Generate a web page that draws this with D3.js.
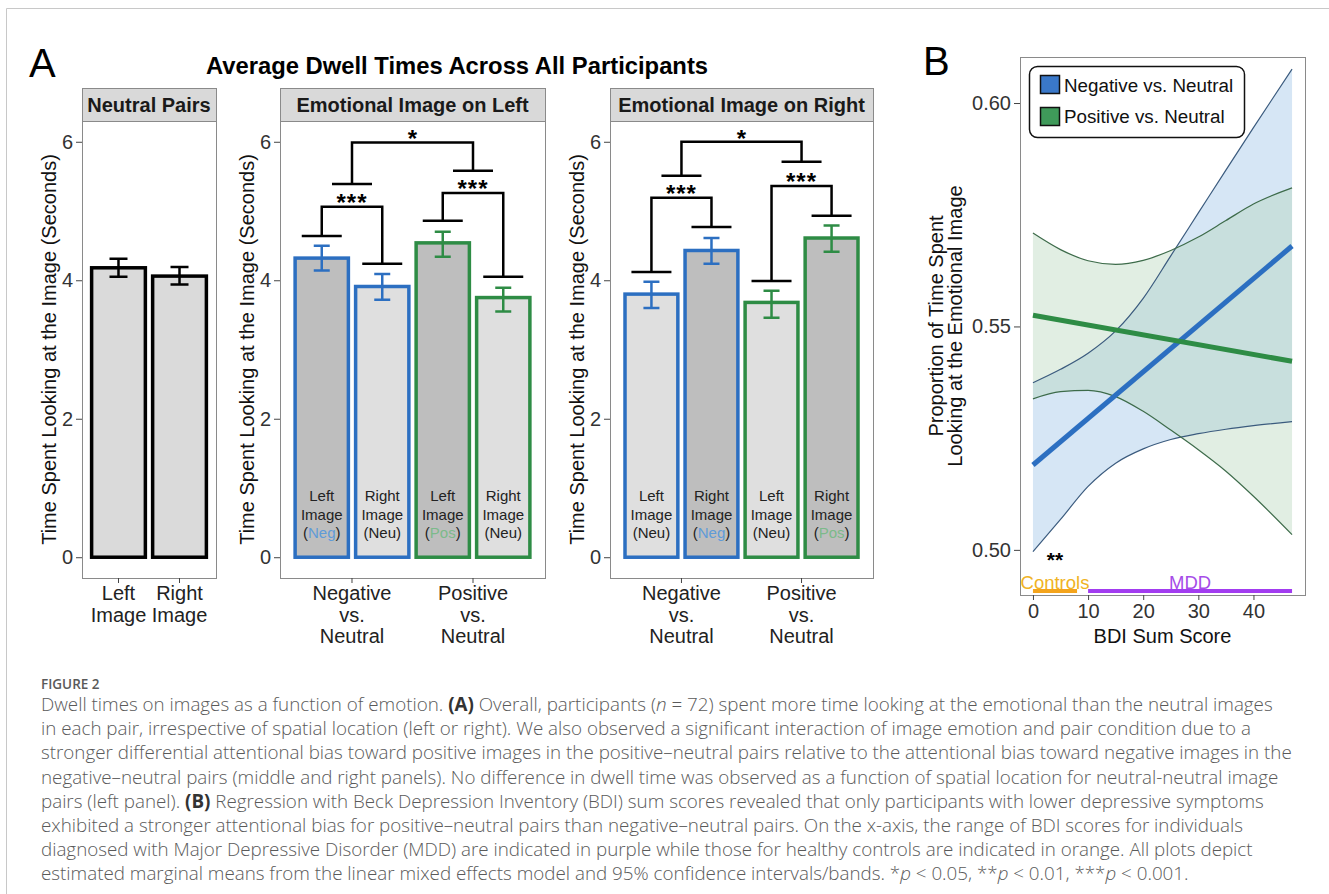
<!DOCTYPE html>
<html>
<head>
<meta charset="utf-8">
<script src="https://cdn.jsdelivr.net/npm/d3@7"></script>
<style>
  body { margin: 0; background: #fff; }
  svg { display: block; }
</style>
</head>
<body>
<svg id="fig" width="1329" height="894"></svg>
<script>
// ---- panel A data (seconds) ----
var neutralCats = ["Left Image", "Right Image"];
var neutralMeans = [4.18, 4.06];
var neutralLo = [4.05, 3.94];
var neutralHi = [4.31, 4.19];

var pairCats = ["Negative vs. Neutral", "Positive vs. Neutral"];
var sideCats = ["Left", "Right"];

// order: neg/left, neg/right, pos/left, pos/right
var leftMeans = [4.32, 3.91, 4.54, 3.75];
var leftLo = [4.14, 3.72, 4.34, 3.55];
var leftHi = [4.50, 4.09, 4.70, 3.89];
var leftTags = ["Neg", "Neu", "Pos", "Neu"];

var rightMeans = [3.80, 4.43, 3.68, 4.61];
var rightLo = [3.60, 4.24, 3.46, 4.41];
var rightHi = [3.98, 4.61, 3.85, 4.79];
var rightTags = ["Neu", "Neg", "Neu", "Pos"];

// significance brackets, heights in seconds
var leftCaps = [4.64, 4.24, 4.86, 4.05];
var leftJoins = [5.06, 5.26];
var leftGroupCaps = [5.39, 5.58];
var leftTop = 5.99;
var rightCaps = [4.12, 4.77, 3.99, 4.93];
var rightJoins = [5.19, 5.36];
var rightGroupCaps = [5.51, 5.71];
var rightTop = 6.0;
var pairStars = ["***", "***"];
var topStars = "*";

var yTicks = [0, 2, 4, 6];

// ---- panel B data ----
var bdiBand = [0, 5, 10, 15, 20, 25, 30, 35, 40, 47];
var negLower = [0.4996, 0.5068, 0.5142, 0.5194, 0.5226, 0.5247, 0.5260, 0.5270, 0.5278, 0.5287];
var negUpper = [0.5374, 0.5404, 0.5440, 0.5490, 0.5563, 0.5658, 0.5754, 0.5850, 0.5945, 0.6076];
var posLower = [0.5338, 0.5354, 0.5357, 0.5343, 0.5310, 0.5268, 0.5224, 0.5176, 0.5120, 0.5034];
var posUpper = [0.5709, 0.5672, 0.5647, 0.5639, 0.5648, 0.5670, 0.5700, 0.5737, 0.5774, 0.5810];
var bdiFit = [0, 47];
var negFit = [0.519, 0.568];
var posFit = [0.5525, 0.5422];
var bdiTicks = [0, 10, 20, 30, 40];
var propTicks = [0.50, 0.55, 0.60];
var controlsRange = [0, 8];
var mddRange = [10, 47];
var legendLabels = ["Negative vs. Neutral", "Positive vs. Neutral"];

var F = "'Liberation Sans', Arial, Helvetica, sans-serif";
var BLUE = "#2c6fc1", GREEN = "#2e8c45";
var DARKFILL = "#bebebe", LIGHTFILL = "#dfdfdf";

var svg = d3.select("#fig").attr("font-family", F);

// outer frame lines
svg.append("path").attr("d", "M6.5,894V8.5H1329").attr("fill", "none").attr("stroke", "#c8c8c8");

var stripTop = 88, panelTop = 121, panelBottom = 578;
var yA = d3.scaleLinear().domain([-0.3, 6.3]).range([panelBottom, panelTop]);

svg.append("text").attr("x", 29).attr("y", 77).attr("font-size", 40).text("A");
svg.append("text").attr("x", 457).attr("y", 74).attr("text-anchor", "middle")
  .attr("font-size", 23.8).attr("font-weight", "bold").text("Average Dwell Times Across All Participants");

function frame(x0, x1, title) {
  svg.append("rect").attr("x", x0 + 0.5).attr("y", stripTop + 0.5)
    .attr("width", x1 - x0).attr("height", panelTop - stripTop)
    .attr("fill", "#d9d9d9").attr("stroke", "#8a8a8a");
  svg.append("text").attr("x", (x0 + x1) / 2).attr("y", stripTop + 23.5)
    .attr("text-anchor", "middle").attr("font-size", 20).attr("font-weight", "bold")
    .attr("fill", "#1a1a1a").text(title);
  svg.append("rect").attr("x", x0 + 0.5).attr("y", panelTop + 0.5)
    .attr("width", x1 - x0).attr("height", panelBottom - panelTop)
    .attr("fill", "#fff").attr("stroke", "#8a8a8a");

  var ax = svg.append("g").attr("transform", "translate(" + x0 + ",0)")
    .call(d3.axisLeft(yA).tickValues(yTicks).tickFormat(d3.format("d")).tickSize(6).tickPadding(3));
  ax.select(".domain").remove();
  ax.attr("font-family", F).attr("font-size", 20);
  ax.selectAll("line").attr("stroke", "#444");
  ax.selectAll("text").attr("fill", "#333");

  svg.append("text")
    .attr("transform", "translate(" + (x0 - 26) + "," + ((panelTop + panelBottom) / 2) + ") rotate(-90)")
    .attr("text-anchor", "middle").attr("font-size", 20).attr("fill", "#111")
    .text("Time Spent Looking at the Image (Seconds)");
}

function xLabels(scale, cats, lineGap) {
  var ax = svg.append("g").attr("transform", "translate(0," + panelBottom + ")")
    .call(d3.axisBottom(scale).tickSize(5).tickFormat(""));
  ax.select(".domain").remove();
  ax.selectAll("line").attr("stroke", "#444");
  cats.forEach(function(c) {
    var t = svg.append("text").attr("text-anchor", "middle").attr("font-size", 20).attr("fill", "#222");
    c.split(" ").forEach(function(w, k) {
      t.append("tspan").attr("x", scale(c) + scale.bandwidth() / 2)
        .attr("y", 600 + k * lineGap).text(w);
    });
  });
}

// ---- neutral pairs panel ----
(function() {
  var x0 = 82, x1 = 216;
  frame(x0, x1, "Neutral Pairs");
  var x = d3.scaleBand().domain(neutralCats).range([x0, x1]).paddingInner(0.07).paddingOuter(0.133);
  var rows = neutralCats.map(function(c, i) {
    return { cat: c, mean: neutralMeans[i], lo: neutralLo[i], hi: neutralHi[i] };
  });
  svg.append("g").selectAll("rect").data(rows).join("rect")
    .attr("x", function(d) { return x(d.cat) + 1.5; })
    .attr("width", x.bandwidth() - 3)
    .attr("y", function(d) { return yA(d.mean); })
    .attr("height", function(d) { return yA(0) - yA(d.mean); })
    .attr("fill", "#dadada").attr("stroke", "#000").attr("stroke-width", 3.5);
  var eb = svg.append("g").attr("stroke", "#000").attr("stroke-width", 2.5).attr("fill", "none");
  rows.forEach(function(d) {
    var c = x(d.cat) + x.bandwidth() / 2;
    eb.append("path").attr("d",
      "M" + (c - 9) + "," + yA(d.hi) + "H" + (c + 9) +
      "M" + c + "," + yA(d.hi) + "V" + yA(d.lo) +
      "M" + (c - 9) + "," + yA(d.lo) + "H" + (c + 9));
  });
  xLabels(x, neutralCats, 22);
})();

// ---- emotional panels ----
function barPanel(x0, x1, title, means, lo, hi, tags, caps, joins, groupCaps, top) {
  frame(x0, x1, title);
  var xG = d3.scaleBand().domain(pairCats).range([x0, x1]).paddingInner(0).paddingOuter(0.095);
  var xS = d3.scaleBand().domain(sideCats).range([0, xG.bandwidth()]).paddingInner(0.07).paddingOuter(0.035);
  var rows = means.map(function(m, i) {
    return { pair: pairCats[Math.floor(i / 2)], side: sideCats[i % 2], mean: m,
      lo: lo[i], hi: hi[i], tag: tags[i], cap: caps[i], col: i < 2 ? BLUE : GREEN };
  });
  function cx(d) { return xG(d.pair) + xS(d.side) + xS.bandwidth() / 2; }

  svg.append("g").selectAll("rect").data(rows).join("rect")
    .attr("x", function(d) { return xG(d.pair) + xS(d.side) + 1.5; })
    .attr("width", xS.bandwidth() - 3)
    .attr("y", function(d) { return yA(d.mean); })
    .attr("height", function(d) { return yA(0) - yA(d.mean); })
    .attr("fill", function(d) { return d.tag === "Neu" ? LIGHTFILL : DARKFILL; })
    .attr("stroke", function(d) { return d.col; }).attr("stroke-width", 3.5);

  rows.forEach(function(d) {
    var c = cx(d);
    svg.append("path").attr("fill", "none").attr("stroke", d.col).attr("stroke-width", 2.5)
      .attr("d", "M" + (c - 8) + "," + yA(d.hi) + "H" + (c + 8) +
        "M" + c + "," + yA(d.hi) + "V" + yA(d.lo) +
        "M" + (c - 8) + "," + yA(d.lo) + "H" + (c + 8));
    // labels inside bars
    var lab = svg.append("text").attr("text-anchor", "middle").attr("font-size", 15).attr("fill", "#222");
    lab.append("tspan").attr("x", c).attr("y", 501).text(d.side);
    lab.append("tspan").attr("x", c).attr("y", 519.5).text("Image");
    var l3 = lab.append("tspan").attr("x", c).attr("y", 538);
    l3.append("tspan").text("(");
    l3.append("tspan").attr("fill", d.tag === "Neg" ? "#5f9bd8" : d.tag === "Pos" ? "#7cba8a" : "#222").text(d.tag);
    l3.append("tspan").text(")");
  });

  // brackets
  var capHalf = 20;
  var br = svg.append("g").attr("fill", "none").attr("stroke", "#000").attr("stroke-width", 2.5);
  var mids = [];
  [0, 1].forEach(function(p) {
    var a = rows[2 * p], b = rows[2 * p + 1];
    var ca = cx(a), cb = cx(b), m = (ca + cb) / 2;
    mids.push(m);
    br.append("path").attr("d",
      "M" + (ca - capHalf) + "," + yA(a.cap) + "H" + (ca + capHalf) +
      "M" + (cb - capHalf) + "," + yA(b.cap) + "H" + (cb + capHalf) +
      "M" + ca + "," + yA(a.cap) + "V" + yA(joins[p]) + "H" + cb + "V" + yA(b.cap) +
      "M" + (m - capHalf) + "," + yA(groupCaps[p]) + "H" + (m + capHalf));
    svg.append("text").attr("x", m).attr("y", yA(joins[p]) + 4).attr("text-anchor", "middle")
      .attr("font-size", 24).attr("font-weight", "bold").attr("letter-spacing", 1).text(pairStars[p]);
  });
  br.append("path").attr("d",
    "M" + mids[0] + "," + yA(groupCaps[0]) + "V" + yA(top) + "H" + mids[1] + "V" + yA(groupCaps[1]));
  svg.append("text").attr("x", (mids[0] + mids[1]) / 2).attr("y", yA(top) + 5).attr("text-anchor", "middle")
    .attr("font-size", 24).attr("font-weight", "bold").text(topStars);

  xLabels(xG, pairCats, 21.5);
}

barPanel(280, 545, "Emotional Image on Left", leftMeans, leftLo, leftHi, leftTags,
  leftCaps, leftJoins, leftGroupCaps, leftTop);
barPanel(610, 873, "Emotional Image on Right", rightMeans, rightLo, rightHi, rightTags,
  rightCaps, rightJoins, rightGroupCaps, rightTop);

// ---- panel B ----
(function() {
  var bx0 = 1020, bx1 = 1305, by0 = 57, by1 = 595;
  var xB = d3.scaleLinear().domain([-2.35, 49.35]).range([bx0, bx1]);
  var yB = d3.scaleLinear().domain([0.4899, 0.6103]).range([by1, by0]);

  svg.append("text").attr("x", 923).attr("y", 75).attr("font-size", 40).text("B");
  svg.append("rect").attr("x", bx0 + 0.5).attr("y", by0 + 0.5).attr("width", bx1 - bx0).attr("height", by1 - by0)
    .attr("fill", "#fff").attr("stroke", "#8a8a8a");

  var negBand = bdiBand.map(function(b, i) { return { x: b, lo: negLower[i], hi: negUpper[i] }; });
  var posBand = bdiBand.map(function(b, i) { return { x: b, lo: posLower[i], hi: posUpper[i] }; });
  var area = d3.area().curve(d3.curveMonotoneX)
    .x(function(d) { return xB(d.x); })
    .y0(function(d) { return yB(d.lo); })
    .y1(function(d) { return yB(d.hi); });
  var edge = function(key) {
    return d3.line().curve(d3.curveMonotoneX)
      .x(function(d) { return xB(d.x); })
      .y(function(d) { return yB(d[key]); });
  };
  svg.append("path").datum(negBand).attr("d", area).attr("fill", "rgb(165,200,232)").attr("fill-opacity", 0.45);
  svg.append("path").datum(posBand).attr("d", area).attr("fill", "rgb(180,212,185)").attr("fill-opacity", 0.4);
  ["lo", "hi"].forEach(function(k) {
    svg.append("path").datum(negBand).attr("d", edge(k)).attr("fill", "none").attr("stroke", "#3b5b7e").attr("stroke-width", 1.2);
    svg.append("path").datum(posBand).attr("d", edge(k)).attr("fill", "none").attr("stroke", "#3d6b4a").attr("stroke-width", 1.2);
  });

  var fit = d3.line().x(function(d) { return xB(d[0]); }).y(function(d) { return yB(d[1]); });
  svg.append("path").datum(d3.zip(bdiFit, negFit)).attr("d", fit)
    .attr("stroke", BLUE).attr("stroke-width", 5).attr("fill", "none");
  svg.append("path").datum(d3.zip(bdiFit, posFit)).attr("d", fit)
    .attr("stroke", GREEN).attr("stroke-width", 5).attr("fill", "none");

  // group ranges on the x axis
  svg.append("line").attr("x1", xB(controlsRange[0])).attr("x2", xB(controlsRange[1]))
    .attr("y1", 591).attr("y2", 591).attr("stroke", "#f4a41c").attr("stroke-width", 4);
  svg.append("line").attr("x1", xB(mddRange[0])).attr("x2", xB(mddRange[1]))
    .attr("y1", 591).attr("y2", 591).attr("stroke", "#a23cf0").attr("stroke-width", 4);
  svg.append("text").attr("x", xB(d3.mean(controlsRange))).attr("y", 588.5).attr("text-anchor", "middle")
    .attr("font-size", 18.5).attr("fill", "#f0b323").text("Controls");
  svg.append("text").attr("x", xB(d3.mean(mddRange))).attr("y", 588.5).attr("text-anchor", "middle")
    .attr("font-size", 18.5).attr("fill", "#a64ce8").text("MDD");
  svg.append("text").attr("x", xB(4)).attr("y", 567).attr("text-anchor", "middle")
    .attr("font-size", 21).attr("font-weight", "bold").text("**");

  // legend
  var lg = svg.append("g");
  lg.append("rect").attr("x", 1029.5).attr("y", 66.5).attr("width", 215).attr("height", 71).attr("rx", 8)
    .attr("fill", "#fff").attr("stroke", "#111").attr("stroke-width", 1.5);
  [BLUE, GREEN].forEach(function(c, i) {
    lg.append("rect").attr("x", 1040.5).attr("y", 75.5 + i * 32).attr("width", 19).attr("height", 18)
      .attr("fill", c === BLUE ? "#3a78c9" : "#3f9a5a").attr("stroke", "#111").attr("stroke-width", 1.5);
    lg.append("text").attr("x", 1064).attr("y", 92 + i * 31).attr("font-size", 18.8).attr("fill", "#111")
      .text(legendLabels[i]);
  });

  var ay = svg.append("g").attr("transform", "translate(" + bx0 + ",0)")
    .call(d3.axisLeft(yB).tickValues(propTicks).tickFormat(d3.format(".2f")).tickSize(6).tickPadding(3));
  ay.select(".domain").remove();
  ay.attr("font-family", F).attr("font-size", 20);
  ay.selectAll("line").attr("stroke", "#444");
  ay.selectAll("text").attr("fill", "#333");

  var axb = svg.append("g").attr("transform", "translate(0," + by1 + ")")
    .call(d3.axisBottom(xB).tickValues(bdiTicks).tickSize(5).tickPadding(4));
  axb.select(".domain").remove();
  axb.attr("font-family", F).attr("font-size", 20);
  axb.selectAll("line").attr("stroke", "#444");
  axb.selectAll("text").attr("fill", "#333");

  svg.append("text").attr("x", (bx0 + bx1) / 2).attr("y", 643).attr("text-anchor", "middle")
    .attr("font-size", 20).attr("fill", "#111").text("BDI Sum Score");
  var yt = svg.append("text").attr("text-anchor", "middle").attr("font-size", 20).attr("fill", "#111")
    .attr("transform", "translate(0," + ((by0 + by1) / 2) + ") rotate(-90)");
  yt.append("tspan").attr("x", 0).attr("y", 943).text("Proportion of Time Spent");
  yt.append("tspan").attr("x", 0).attr("y", 962).text("Looking at the Emotional Image");
})();

// ---- caption ----
var capFont = "'Open Sans', Lato, sans-serif";
svg.append("text").attr("x", 41).attr("y", 689).attr("font-family", capFont)
  .attr("font-size", 13.5).attr("font-weight", 600).attr("fill", "#5a5a5a").text("FIGURE 2");

var captionLines = [
  [["Dwell times on images as a function of emotion. "], ["(A)", "b"], [" Overall, participants ("], ["n", "i"], [" = 72) spent more time looking at the emotional than the neutral images"]],
  [["in each pair, irrespective of spatial location (left or right). We also observed a significant interaction of image emotion and pair condition due to a"]],
  [["stronger differential attentional bias toward positive images in the positive\u2013neutral pairs relative to the attentional bias toward negative images in the"]],
  [["negative\u2013neutral pairs (middle and right panels). No difference in dwell time was observed as a function of spatial location for neutral-neutral image"]],
  [["pairs (left panel). "], ["(B)", "b"], [" Regression with Beck Depression Inventory (BDI) sum scores revealed that only participants with lower depressive symptoms"]],
  [["exhibited a stronger attentional bias for positive\u2013neutral pairs than negative\u2013neutral pairs. On the x-axis, the range of BDI scores for individuals"]],
  [["diagnosed with Major Depressive Disorder (MDD) are indicated in purple while those for healthy controls are indicated in orange. All plots depict"]],
  [["estimated marginal means from the linear mixed effects model and 95% confidence intervals/bands. *"], ["p", "i"], [" < 0.05, **"], ["p", "i"], [" < 0.01, ***"], ["p", "i"], [" < 0.001."]]
];
captionLines.forEach(function(segs, i) {
  var t = svg.append("text").attr("x", 41).attr("y", 711 + i * 24.2)
    .attr("font-family", capFont).attr("font-size", 18.8).attr("font-weight", 300).attr("fill", "#5a5a5a")
    .attr("xml:space", "preserve");
  segs.forEach(function(s) {
    var ts = t.append("tspan").text(s[0]);
    if (s[1] === "b") ts.attr("font-weight", 700).attr("fill", "#333");
    if (s[1] === "i") ts.attr("font-style", "italic");
  });
});
</script>
</body>
</html>
